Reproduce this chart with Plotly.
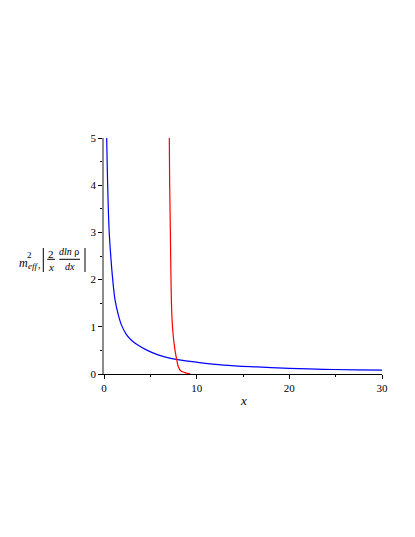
import plotly.graph_objects as go

# values
blue_x = [0.29, 0.36, 0.45, 0.55, 0.65, 0.76, 0.93, 1.19, 1.55, 1.9, 2.44, 3.05, 3.6, 4.68,
          5.76, 7.19, 8.63, 10.0, 12.9, 16.5, 20.0, 23.7, 27.3, 30.0]
blue_y = [5.0, 4.3, 3.6, 3.05, 2.72, 2.42, 2.02, 1.57, 1.25, 1.03, 0.83, 0.70, 0.62, 0.50,
          0.41, 0.33, 0.285, 0.25, 0.19, 0.15, 0.12, 0.10, 0.087, 0.08]

red_x = [7.05, 7.08, 7.16, 7.23, 7.33, 7.48, 7.66, 7.84, 8.02, 8.27, 8.74, 9.0, 9.3]
red_y = [5.0, 4.11, 3.05, 1.99, 1.21, 0.79, 0.51, 0.31, 0.155, 0.07, 0.03, 0.015, 0.007]

x_ticks = [0, 10, 20, 30]
y_ticks = [0, 1, 2, 3, 4, 5]

W, H = 415, 537
# plot area in page pixels (the page body adds an 8px offset)
L, R, T, B = 104, 382, 138, 374
OFF = 8
_FONT = "Liberation Serif"


def px(x):
    return (x - L) / (R - L)


def py(y):
    return (B - y) / (B - T)


fig = go.Figure()
fig.add_trace(go.Scatter(x=blue_x, y=blue_y, mode="lines",
                         line=dict(color="#0000ff", width=1.2, shape="spline"), showlegend=False))
fig.add_trace(go.Scatter(x=red_x, y=red_y, mode="lines",
                         line=dict(color="#ff0000", width=1.2, shape="spline"), showlegend=False))


def label(text, x, y, size=10):
    fig.add_annotation(text=text, x=px(x), y=py(y), xref="paper", yref="paper", showarrow=False,
                       xanchor="center", yanchor="middle", font=dict(family=_FONT, size=size, color="black"))


def seg(x0, y0, x1, y1):
    fig.add_shape(type="line", x0=px(x0), y0=py(y0), x1=px(x1), y1=py(y1), xref="paper", yref="paper",
                  line=dict(color="black", width=1))


# y axis title: m_eff^2, |2/x dln rho/dx|
label("<i>m</i>", 23.5, 263, 12)
label("2", 29.5, 254.5, 9)
label("<i>eff</i>", 32.5, 266, 9)
label(",", 39.5, 264, 10)
seg(43.3, 248, 43.3, 272)
label("2", 51, 253.5, 11)
seg(47.3, 259.3, 55, 259.3)
label("<i>x</i>", 51, 266.5, 11)
label("<i>dln</i> ρ", 68.7, 251.5, 10)
seg(59.3, 259.3, 80, 259.3)
label("<i>dx</i>", 70, 266, 10)
seg(85, 248, 85, 272)

# x axis title
label("<i>x</i>", 243, 400, 13)

fig.update_layout(
    width=W, height=H,
    margin=dict(l=L - OFF, r=W - R + OFF, t=T - OFF, b=H - B + OFF),
    paper_bgcolor="white", plot_bgcolor="white",
    font=dict(family=_FONT, size=10, color="black"),
    xaxis=dict(range=[0, 30], tickvals=x_ticks, showgrid=False, zeroline=False,
               showline=True, linecolor="black", linewidth=1,
               ticks="outside", ticklen=4, tickcolor="black",
               minor=dict(dtick=5, ticks="outside", ticklen=2, tickcolor="black"),
               tickfont=dict(family=_FONT, size=11)),
    yaxis=dict(range=[0, 5], tickvals=y_ticks, showgrid=False, zeroline=False,
               showline=True, linecolor="#8c8c8c", linewidth=1.5,
               ticks="outside", ticklen=4, tickcolor="black",
               minor=dict(dtick=0.5, ticks="outside", ticklen=2, tickcolor="black"),
               tickfont=dict(family=_FONT, size=11)),
)

fig.write_html("out.html")
